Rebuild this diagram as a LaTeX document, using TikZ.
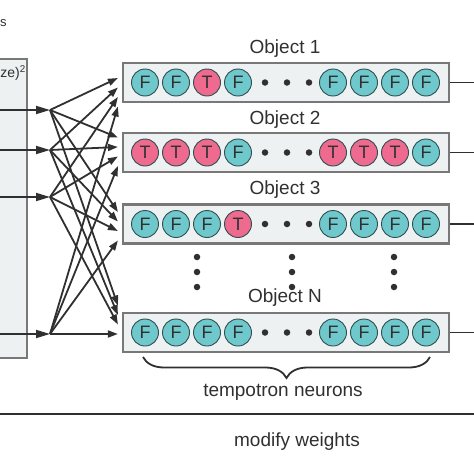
\documentclass[tikz,border=0pt]{standalone}
\usepackage{fontspec}
\setmainfont{Liberation Sans}
\usetikzlibrary{arrows.meta,calc,decorations.pathreplacing}

\definecolor{boxfill}{HTML}{EEF1F2}
\definecolor{boxline}{HTML}{787878}
\definecolor{ink}{HTML}{303030}
\definecolor{fcol}{HTML}{6FC8CC}
\definecolor{tcol}{HTML}{EE6A8F}
\definecolor{ringcol}{HTML}{2F4F50}

\tikzset{
  objbox/.style={draw=boxline, fill=boxfill, line width=2.2pt, minimum width=326pt, minimum height=39pt, inner sep=0pt},
  neuron/.style={circle, draw=ringcol, line width=0.9pt, minimum size=27pt, inner sep=0pt, text=ink, font=\fontsize{18}{18}\selectfont},
  neuronF/.style={neuron, fill=fcol},
  neuronT/.style={neuron, fill=tcol},
  dotmark/.style={circle, fill=ink, inner sep=0pt, minimum size=6.5pt},
  wire/.style={draw=ink, line width=1.8pt, -{Triangle[length=10pt,width=7pt]}},
  inwire/.style={draw=ink, line width=1.8pt, -{Triangle[length=14pt,width=8pt]}},
  lbl/.style={text=ink, font=\fontsize{19}{19}\selectfont},
}

\begin{document}
\begin{tikzpicture}[x=1pt, y=-1pt]
  \useasboundingbox (0,0) rectangle (474,474);
  \clip (0,0) rectangle (474,474);

  % input side
  \draw[draw=boxline, fill=boxfill, line width=2.2pt] (-5,59) rectangle (27,358);
  \node[text=ink, font=\fontsize{14}{14}\selectfont, anchor=east, inner sep=0pt] (sz) at (26,73) {ze)\textsuperscript{2}};
  \node[text=ink, font=\fontsize{13}{13}\selectfont, anchor=west, inner sep=0pt] (cut) at (0,23) {s};

  % object rows
  \node[objbox] (o1) at (286,82.5) {};
  \node[objbox] (o2) at (286,152.5) {};
  \node[objbox] (o3) at (286,224) {};
  \node[objbox] (o4) at (286,332.5) {};

  \node[lbl] (l1) at (285,49) {Object 1};
  \node[lbl] (l2) at (285,120) {Object 2};
  \node[lbl] (l3) at (285,190) {Object 3};
  \node[lbl] (l4) at (285,298) {Object N};

  \foreach \r/\yy/\labs in {1/82.5/{F,F,T,F,F,F,F,F},
                            2/152.5/{T,T,T,F,T,T,T,F},
                            3/224/{F,F,F,T,F,F,F,F},
                            4/332.5/{F,F,F,F,F,F,F,F}} {
    \foreach \l [count=\k] in \labs {
      \pgfmathsetmacro\xx{\k<5 ? 114+31*\k : 178+31*\k}
      \node[neuron\l] (n\r-\k) at (\xx,\yy) {\l};
    }
    \foreach \xx in {265,287,309}
      \node[dotmark] (d\r-\xx) at (\xx,\yy) {};
  }

  % vertical dots
  \foreach \xx in {197,292,394}
    \foreach \yy in {257,272,287}
      \node[dotmark] (v\xx-\yy) at (\xx,\yy) {};

  % inputs and fan-out
  \foreach \i/\yy in {1/110,2/150,3/197,4/334} {
    \coordinate (in\i) at (0,\yy);
    \coordinate (f\i) at (50,\yy);
    \draw[inwire] (in\i) -- (f\i);
  }
  \foreach \j/\b in {1/-4.5,2/-15,3/-12,4/-27}
    \foreach \i in {1,...,4}
      \draw[wire] (f\i) -- ($(o\j.west)+(-4,\b+9.5*\i-9.5)$);

  % outputs
  \foreach \j in {1,...,4} {
    \coordinate (out\j) at ($(o\j.east)+(30,0)$);
    \draw[ink, line width=1.5pt] (o\j.east) -- (out\j);
  }

  % brace
  \coordinate (bl) at (143,357);
  \coordinate (br) at (430,357);
  \draw[ink, line width=1.8pt, decorate, decoration={brace, mirror, amplitude=21pt}] (bl) -- (br);
  \node[lbl] (tn) at (283,392) {tempotron neurons};

  % feedback
  \coordinate (ml) at (0,414);
  \coordinate (mr) at (474,414);
  \draw[ink, line width=1.8pt] (ml) -- (mr);
  \node[lbl] (mw) at (297,442) {modify weights};
\end{tikzpicture}
\end{document}
